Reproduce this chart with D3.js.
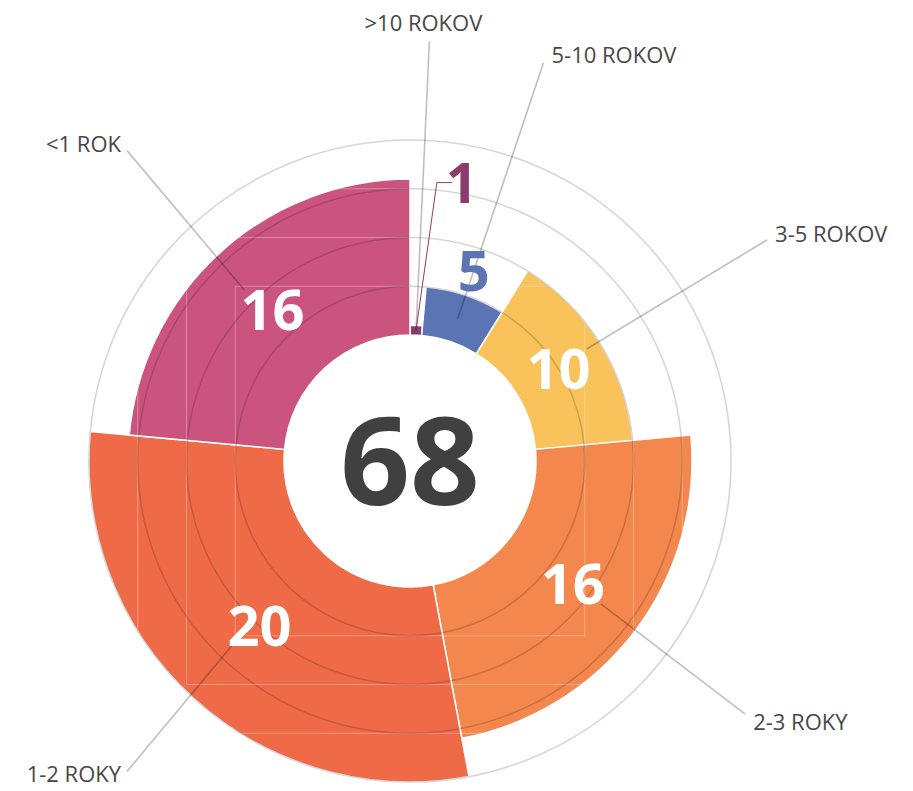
<!DOCTYPE html>
<html>
<head>
<meta charset="utf-8">
<script src="https://cdn.jsdelivr.net/npm/d3@7"></script>
<style>
  body { margin: 0; background: #fff; }
  svg { display: block; font-family: 'Open Sans', 'DejaVu Sans', sans-serif; }
</style>
</head>
<body>
<script>
// Chart data
var categories = ['>10 ROKOV', '5-10 ROKOV', '3-5 ROKOV', '2-3 ROKY', '1-2 ROKY', '<1 ROK'];
var values = [1, 5, 10, 16, 20, 16];
var colors = ['#8b3c6c', '#5a74b4', '#f9c25a', '#f3874e', '#ef6b48', '#cb547e'];
var gridTicks = [5, 10, 15, 20];

var w = 913;
var h = 791;
var cx = 410;
var cy = 461;
var innerR = 126;
var labelR = 420;
var valueSize = 56;

var total = d3.sum(values);

// Add an svg image to <body>
function svgMaker(w, h) {
  return d3.select('body')
             .append('svg')
             .attr('width', w)
             .attr('height', h);
}

// point on a circle, angle clockwise from 12 o'clock
function polar(r, a) {
  return [cx + r * Math.sin(a), cy - r * Math.cos(a)];
}

function roseChart() {
  var svg = svgMaker(w, h);
  var g = svg.append('g').attr('transform', 'translate(' + cx + ',' + cy + ')');

  var rScale = d3.scaleLinear()
      .domain([0, d3.max(gridTicks)])
      .range([innerR, 321]);

  var pie = d3.pie().sort(null).value(function(d) { return d; });
  var slices = pie(values);

  var arc = d3.arc()
      .innerRadius(innerR)
      .outerRadius(function(d) { return rScale(d.data); });

  // slices
  g.selectAll('path.slice')
      .data(slices)
      .enter()
      .append('path')
      .attr('class', 'slice')
      .attr('d', arc)
      .attr('fill', function(d, i) { return colors[i]; })
      .attr('stroke', '#fff')
      .attr('stroke-width', 1.5);

  // faint boxes round the grid rings (seen through the slices)
  g.selectAll('rect.box')
      .data(gridTicks.slice(0, 3))
      .enter()
      .append('rect')
      .attr('x', function(d) { return -rScale(d); })
      .attr('y', function(d) { return -rScale(d); })
      .attr('width', function(d) { return 2 * rScale(d); })
      .attr('height', function(d) { return 2 * rScale(d); })
      .attr('fill', 'none')
      .attr('stroke', '#fff')
      .attr('stroke-opacity', 0.3)
      .attr('stroke-width', 1);

  // grid rings
  g.selectAll('circle.grid')
      .data(gridTicks)
      .enter()
      .append('circle')
      .attr('r', function(d) { return rScale(d); })
      .attr('fill', 'none')
      .attr('stroke', '#000')
      .attr('stroke-opacity', 0.16)
      .attr('stroke-width', 1.6);

  // inner hole + total
  g.append('circle').attr('r', innerR).attr('fill', '#fff');
  g.append('text')
      .attr('text-anchor', 'middle')
      .attr('y', 122 * 0.357)
      .attr('font-size', '122px')
      .attr('font-weight', 700)
      .attr('fill', '#404040')
      .text(total);

  var leaders = svg.append('g');
  var labels = svg.append('g');

  slices.forEach(function(d, i) {
    var mid = (d.startAngle + d.endAngle) / 2;
    var outer = rScale(d.data);
    var c = arc.centroid(d);
    var cen = [cx + c[0], cy + c[1]];
    var start = polar(labelR, mid);
    var sx = Math.sin(mid), sy = -Math.cos(mid);
    var dy = 4 + 20 * Math.max(0, sy) - 4 * Math.max(0, -sy);
    var ty = Math.min(start[1] + dy, h - 9);

    // category label
    var t = labels.append('text')
        .attr('font-size', '22px')
        .attr('fill', '#474747')
        .text(categories[i]);
    if (Math.abs(sx) < 0.1) {
      t.attr('text-anchor', 'middle').attr('x', start[0] - 6).attr('y', start[1] - 10);
    } else if (sx > 0) {
      t.attr('text-anchor', 'start').attr('x', start[0] + 8).attr('y', ty);
    } else {
      t.attr('text-anchor', 'end').attr('x', start[0] - 6).attr('y', ty);
    }

    var end = cen;
    if (d.data >= 8) {
      // value inside the slice, white
      var v = labels.append('text')
          .attr('text-anchor', 'middle')
          .attr('x', cen[0])
          .attr('y', cen[1] + valueSize * 0.357)
          .attr('font-size', valueSize + 'px')
          .attr('font-weight', 700)
          .attr('fill', '#fff')
          .text(d.data);
      var tw = v.node().getComputedTextLength() - 8;
      var th = valueSize * 0.714;
      end = [cen[0] + (sx > 0 ? 1 : -1) * tw / 2, cen[1] + (sy > 0 ? 1 : -1) * th / 2];
    } else if (d.data >= 3) {
      // value just outside the slice
      var p = polar(outer + 26, mid);
      labels.append('text')
          .attr('text-anchor', 'middle')
          .attr('x', p[0])
          .attr('y', p[1] + valueSize * 0.357)
          .attr('font-size', valueSize + 'px')
          .attr('font-weight', 700)
          .attr('fill', colors[i])
          .text(d.data);
    } else {
      // tiny slice: callout with an elbow line
      var q = polar(rScale(15) + 9, mid + 0.096);
      labels.append('text')
          .attr('text-anchor', 'start')
          .attr('x', q[0] - 4)
          .attr('y', q[1] + valueSize * 0.357)
          .attr('font-size', valueSize + 'px')
          .attr('font-weight', 700)
          .attr('fill', colors[i])
          .text(d.data);
      leaders.append('polyline')
          .attr('points', [[q[0] + 2, q[1]], [q[0] - 13, q[1]], cen].join(' '))
          .attr('fill', 'none')
          .attr('stroke', colors[i])
          .attr('stroke-width', 1);
    }

    leaders.append('line')
        .attr('x1', start[0])
        .attr('y1', start[1])
        .attr('x2', end[0])
        .attr('y2', end[1])
        .attr('stroke', '#000')
        .attr('stroke-opacity', 0.25)
        .attr('stroke-width', 1.6);
  });
}

roseChart();
</script>
</body>
</html>
